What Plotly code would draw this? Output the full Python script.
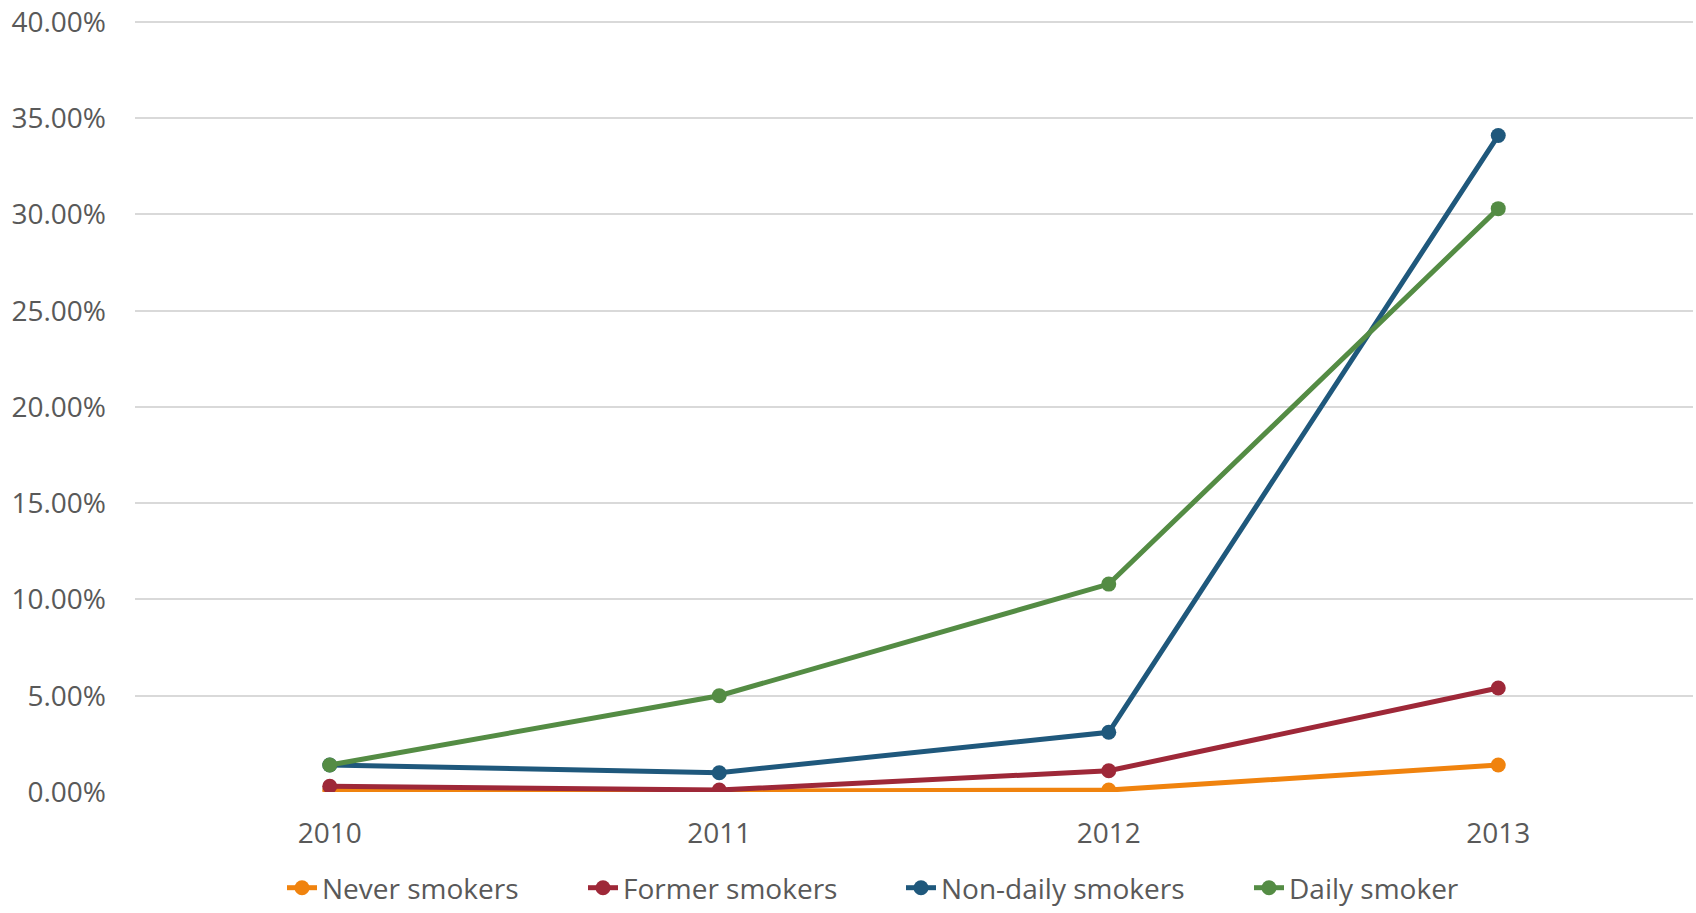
import plotly.graph_objects as go

years = ["2010", "2011", "2012", "2013"]
never_smokers = [0.001, 0.0005, 0.001, 0.014]
former_smokers = [0.003, 0.001, 0.011, 0.054]
non_daily_smokers = [0.014, 0.010, 0.031, 0.341]
daily_smoker = [0.014, 0.050, 0.108, 0.303]

series = [
    ("Never smokers", never_smokers, "#F0830E", "legend"),
    ("Former smokers", former_smokers, "#9E2838", "legend2"),
    ("Non-daily smokers", non_daily_smokers, "#1F587C", "legend3"),
    ("Daily smoker", daily_smoker, "#548C44", "legend4"),
]

fig = go.Figure()
for name, vals, col, leg in series:
    fig.add_trace(go.Scatter(
        x=years, y=vals, name=name, mode="lines+markers",
        line=dict(color=col, width=5),
        marker=dict(color=col, size=15),
        legend=leg,
    ))

font_family = "Open Sans"
text_col = "#595959"
W, H = 1696, 913

def leg(xpx):
    return dict(
        orientation="h", xref="container", yref="container",
        x=xpx / W, xanchor="left", y=0.0, yanchor="bottom",
        font=dict(size=28, color=text_col, family=font_family),
        bgcolor="rgba(0,0,0,0)",
    )

fig.update_layout(
    width=W, height=H,
    paper_bgcolor="white", plot_bgcolor="white",
    margin=dict(l=135, r=3, t=20, b=121),
    font=dict(family=font_family, size=28, color=text_col),
    showlegend=True,
    legend=leg(323 - 41),
    legend2=leg(624 - 41),
    legend3=leg(942 - 41),
    legend4=leg(1290 - 41),
    xaxis=dict(
        type="category", range=[-0.5, 3.5], showgrid=False, zeroline=False,
        showline=False, ticks="", ticklabelstandoff=22, automargin=False,
    ),
    yaxis=dict(
        range=[0, 0.401], dtick=0.05, tickformat=".2%",
        showgrid=True, gridcolor="#D9D9D9", gridwidth=1.5,
        zeroline=False, showline=False, ticks="", ticklabelstandoff=28,
        automargin=False,
    ),
)

fig.write_html("out.html", post_script="document.body.style.margin='0';",
               config={"displayModeBar": False})
